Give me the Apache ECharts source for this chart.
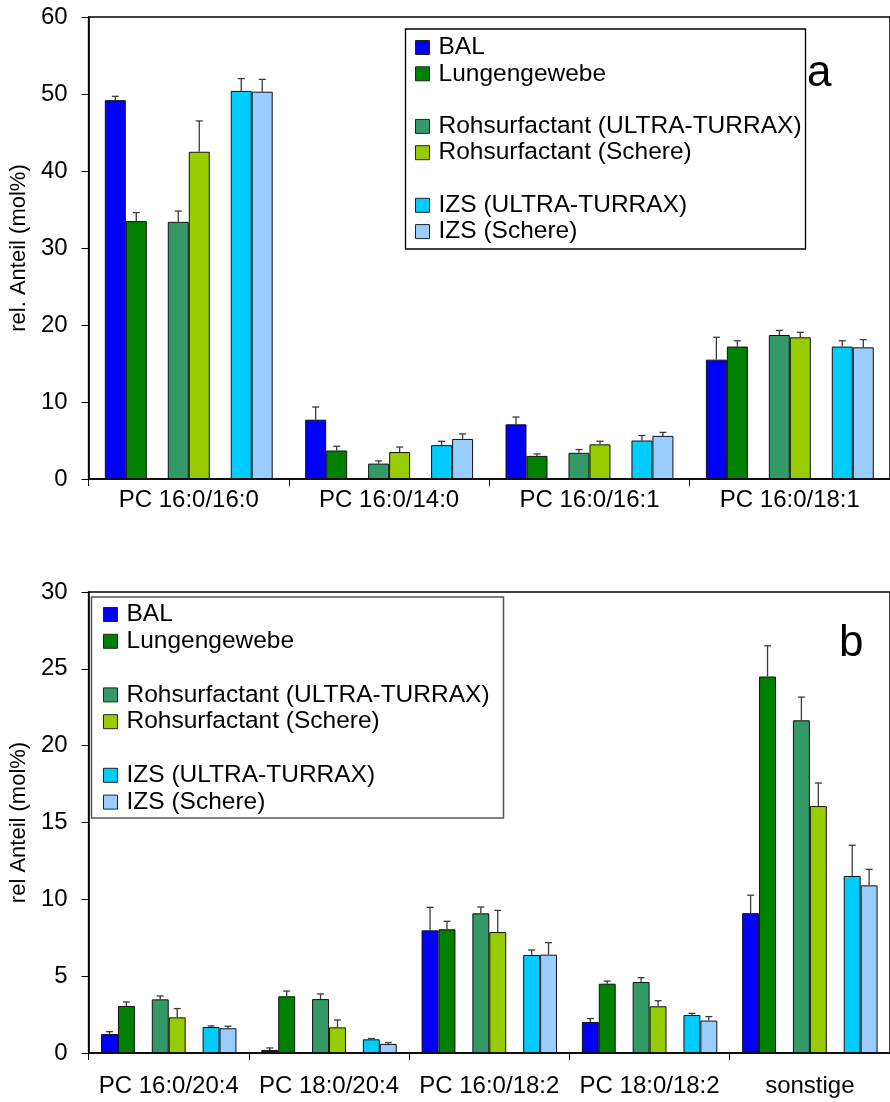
<!DOCTYPE html>
<html>
<head>
<meta charset="utf-8">
<script src="https://cdn.jsdelivr.net/npm/echarts@6/dist/echarts.min.js"></script>
<style>
html,body{margin:0;padding:0;background:#fff;}
#chart{width:890px;height:1102px;}
</style>
</head>
<body>
<div id="chart"></div>
<script>
// ---------- DATA ----------
const seriesNames = ['BAL', 'Lungengewebe', ' ', 'Rohsurfactant (ULTRA-TURRAX)', 'Rohsurfactant (Schere)', '  ', 'IZS (ULTRA-TURRAX)', 'IZS (Schere)'];
const seriesColors = ['#0000FF', '#008000', 'transparent', '#339966', '#99CC00', 'transparent', '#00CCFF', '#99CCFF'];

// Panel a
const catsA = ['PC 16:0/16:0', 'PC 16:0/14:0', 'PC 16:0/16:1', 'PC 16:0/18:1'];
const balA      = [49.2, 7.7, 7.1, 15.5];
const lungA     = [33.5, 3.7, 3.0, 17.2];
const rohUTA    = [33.4, 2.0, 3.4, 18.7];
const rohSchA   = [42.5, 3.5, 4.5, 18.4];
const izsUTA    = [50.4, 4.4, 5.0, 17.2];
const izsSchA   = [50.3, 5.2, 5.6, 17.1];
const balErrA   = [0.5, 1.65, 0.95, 2.9];
const lungErrA  = [1.1, 0.55, 0.26, 0.75];
const rohUTErrA = [1.4, 0.35, 0.43, 0.6];
const rohSchErrA= [4.0, 0.65, 0.4, 0.65];
const izsUTErrA = [1.6, 0.5, 0.65, 0.75];
const izsSchErrA= [1.6, 0.65, 0.45, 1.0];
const yTicksA = [0, 10, 20, 30, 40, 50, 60];

// Panel b
const catsB = ['PC 16:0/20:4', 'PC 18:0/20:4', 'PC 16:0/18:2', 'PC 18:0/18:2', 'sonstige'];
const balB      = [1.24, 0.2, 7.98, 2.02, 9.1];
const lungB     = [3.06, 3.69, 8.05, 4.51, 24.5];
const rohUTB    = [3.49, 3.51, 9.09, 4.62, 21.65];
const rohSchB   = [2.32, 1.67, 7.87, 3.04, 16.07];
const izsUTB    = [1.69, 0.89, 6.38, 2.47, 11.52];
const izsSchB   = [1.61, 0.59, 6.4, 2.11, 10.91];
const balErrB   = [0.15, 0.13, 1.5, 0.22, 1.17];
const lungErrB  = [0.26, 0.34, 0.52, 0.17, 2.0];
const rohUTErrB = [0.22, 0.33, 0.41, 0.28, 1.51];
const rohSchErrB= [0.57, 0.48, 1.41, 0.36, 1.5];
const izsUTErrB = [0.07, 0.05, 0.32, 0.11, 2.0];
const izsSchErrB= [0.13, 0.09, 0.78, 0.26, 1.04];
const yTicksB = [0, 5, 10, 15, 20, 25, 30];

// ---------- BUILD ----------
const FONT = "'Liberation Sans', Arial, sans-serif";
const gapA = 0.162, gapB = 0.155;

const valsA = [balA, lungA, null, rohUTA, rohSchA, null, izsUTA, izsSchA];
const errsA = [balErrA, lungErrA, null, rohUTErrA, rohSchErrA, null, izsUTErrA, izsSchErrA];
const valsB = [balB, lungB, null, rohUTB, rohSchB, null, izsUTB, izsSchB];
const errsB = [balErrB, lungErrB, null, rohUTErrB, rohSchErrB, null, izsUTErrB, izsSchErrB];

function barSeries(vals, cats, idx, gap) {
  return seriesNames.map((name, k) => ({
    type: 'bar',
    name: name,
    xAxisIndex: idx, yAxisIndex: idx,
    barGap: '0%',
    barCategoryGap: (gap * 100).toFixed(1) + '%',
    data: vals[k] ? vals[k] : cats.map(() => '-'),
    itemStyle: vals[k] ? { color: seriesColors[k], borderColor: '#111', borderWidth: 1 } : { color: 'transparent', borderWidth: 0 },
    emphasis: { disabled: true },
    silent: true,
    z: 2
  }));
}

function errSeries(vals, errs, idx, gap) {
  const data = [];
  vals.forEach((arr, k) => {
    if (!arr) return;
    arr.forEach((v, c) => data.push([c, k, v, errs[k][c]]));
  });
  return {
    type: 'custom',
    xAxisIndex: idx, yAxisIndex: idx,
    silent: true,
    z: 5,
    encode: { x: 0, y: 2 },
    data: data,
    renderItem: function (params, api) {
      const c = api.value(0), k = api.value(1), v = api.value(2), e = api.value(3);
      const band = api.size([1, 0])[0];
      const w = band * (1 - gap) / 8;
      const base = api.coord([c, v]);
      const top = api.coord([c, v + e]);
      const x = base[0] + (k - 3.5) * w;
      const st = { stroke: '#3a3a3a', lineWidth: 1.3 };
      return {
        type: 'group',
        children: [
          { type: 'line', shape: { x1: x, y1: base[1], x2: x, y2: top[1] }, style: st },
          { type: 'line', shape: { x1: x - 3.5, y1: top[1], x2: x + 3.5, y2: top[1] }, style: st }
        ]
      };
    }
  };
}

function legendData() {
  return seriesNames.map((n, k) => seriesColors[k] === 'transparent'
    ? { name: n, icon: 'rect', itemStyle: { opacity: 0 } }
    : { name: n, icon: 'rect' });
}

function legend(left, top, gapY) {
  return {
    orient: 'vertical',
    left: left, top: top,
    padding: 0,
    itemGap: gapY,
    itemWidth: 14, itemHeight: 14,
    icon: 'rect',
    selectedMode: false,
    data: legendData(),
    itemStyle: { borderColor: '#222', borderWidth: 1 },
    textStyle: { fontFamily: FONT, fontSize: 24.5, color: '#000', lineHeight: 24, padding: [0, 0, 0, 4] }
  };
}

function xAxis(cats, idx, margin) {
  return {
    type: 'category', gridIndex: idx, data: cats,
    axisLine: { show: true, lineStyle: { color: '#000', width: 1.5 } },
    axisTick: { show: true, length: 7, lineStyle: { color: '#000', width: 1 } },
    axisLabel: { fontFamily: FONT, fontSize: 24, color: '#000', margin: margin, interval: 0 },
    splitLine: { show: false }
  };
}

function yAxis(ticks, idx, name, interval) {
  return {
    type: 'value', gridIndex: idx,
    min: ticks[0], max: ticks[ticks.length - 1], interval: interval,
    name: name, nameLocation: 'middle', nameRotate: 90, nameGap: 44,
    nameTextStyle: { fontFamily: FONT, fontSize: 22, color: '#000' },
    axisLine: { show: true, lineStyle: { color: '#000', width: 1.5 } },
    axisTick: { show: true, length: 7, lineStyle: { color: '#000', width: 1 } },
    axisLabel: { fontFamily: FONT, fontSize: 24, color: '#000', margin: 21 },
    splitLine: { show: false }
  };
}

const option = {
  animation: false,
  backgroundColor: '#fff',
  grid: [
    { left: 82, top: 17, right: -9, bottom: 623, show: true, borderColor: '#000', borderWidth: 1.5, backgroundColor: 'transparent' },
    { left: 83, top: 592, right: -10, bottom: 49, show: true, borderColor: '#000', borderWidth: 1.5, backgroundColor: 'transparent' }
  ],
  xAxis: [xAxis(catsA, 0, 9), xAxis(catsB, 1, 21)],
  yAxis: [yAxis(yTicksA, 0, 'rel. Anteil (mol%)', 10), yAxis(yTicksB, 1, 'rel Anteil (mol%)', 5)],
  legend: [legend(415, 35, 1.3), legend(103, 602, 1.8)],
  graphic: [
    { type: 'rect', shape: { x: 405.5, y: 29, width: 400, height: 220 }, style: { fill: 'none', stroke: '#000', lineWidth: 1.3 }, z: 10 },
    { type: 'rect', shape: { x: 91.5, y: 597, width: 412, height: 221 }, style: { fill: 'none', stroke: '#555', lineWidth: 1.5 }, z: 10 },
    { type: 'text', left: 807, top: 52, style: { text: 'a', font: '44px ' + FONT, fill: '#000' }, z: 10 },
    { type: 'text', left: 839, top: 622, style: { text: 'b', font: '44px ' + FONT, fill: '#000' }, z: 10 }
  ],
  series: [
    ...barSeries(valsA, catsA, 0, gapA),
    errSeries(valsA, errsA, 0, gapA),
    ...barSeries(valsB, catsB, 1, gapB),
    errSeries(valsB, errsB, 1, gapB)
  ]
};

const chart = echarts.init(document.getElementById('chart'), null, { renderer: 'canvas' });
chart.setOption(option);
</script>
</body>
</html>
